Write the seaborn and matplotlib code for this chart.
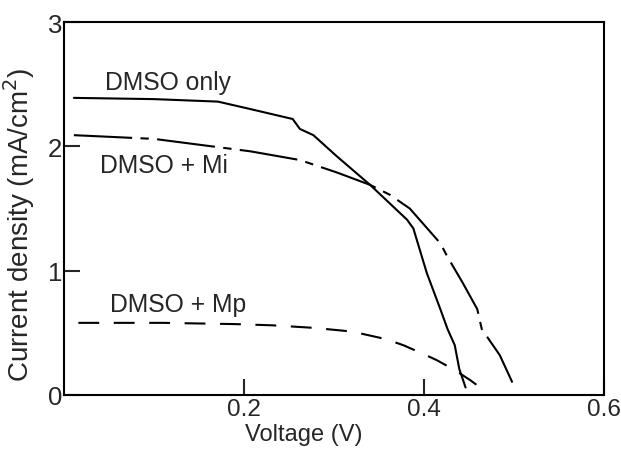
import matplotlib
matplotlib.use("Agg")
import matplotlib.pyplot as plt
import pandas as pd
import seaborn as sns

# J-V curves (voltage in V, current density in mA/cm2)
only_v = [0.011, 0.10, 0.171, 0.207, 0.254, 0.262, 0.277, 0.303, 0.34, 0.381,
          0.388, 0.403, 0.418, 0.426, 0.434, 0.439, 0.446]
only_j = [2.39, 2.38, 2.36, 2.30, 2.22, 2.14, 2.09, 1.92, 1.69, 1.41,
          1.34, 0.98, 0.69, 0.53, 0.40, 0.21, 0.06]

mi_v = [0.011, 0.10, 0.207, 0.262, 0.303, 0.34, 0.362, 0.384, 0.418, 0.426,
        0.443, 0.459, 0.464, 0.484, 0.498]
mi_j = [2.09, 2.06, 1.96, 1.89, 1.79, 1.69, 1.61, 1.50, 1.22, 1.11,
        0.90, 0.69, 0.53, 0.32, 0.10]

mp_v = [0.016, 0.11, 0.19, 0.232, 0.277, 0.32, 0.357, 0.377, 0.399, 0.414,
        0.434, 0.451, 0.466]
mp_j = [0.58, 0.58, 0.57, 0.56, 0.54, 0.51, 0.45, 0.40, 0.33, 0.28,
        0.20, 0.12, 0.04]

labels = ["DMSO only", "DMSO + Mi", "DMSO + Mp"]
x_ticks = [0.2, 0.4, 0.6]
y_ticks = [0, 1, 2, 3]

df = pd.concat([
    pd.DataFrame({"V": only_v, "J": only_j, "sample": labels[0]}),
    pd.DataFrame({"V": mi_v, "J": mi_j, "sample": labels[1]}),
    pd.DataFrame({"V": mp_v, "J": mp_j, "sample": labels[2]}),
], ignore_index=True)

sns.set_style("ticks")
plt.rcParams["font.family"] = ["Liberation Sans", "DejaVu Sans"]

fig = plt.figure(figsize=(6.21, 4.52), dpi=100)
ax = fig.add_axes([0.103, 0.124, 0.870, 0.825])

sns.lineplot(data=df, x="V", y="J", hue="sample", style="sample",
             palette=["black"] * 3,
             dashes={labels[0]: "", labels[1]: (28, 4, 4, 4), labels[2]: (10, 7)},
             sort=False, estimator=None, linewidth=1.5, legend=False, ax=ax)

ax.set_xlim(0, 0.6)
ax.set_ylim(0, 3)
ax.set_xticks(x_ticks)
ax.set_xticklabels(["0.2", "0.4", "0.6"])
ax.set_yticks(y_ticks)
ax.set_yticklabels(["0", "1", "2", "3"])
ax.tick_params(axis="x", direction="in", length=11.5, width=1.5, labelsize=17.5, pad=2.5)
ax.tick_params(axis="y", direction="in", length=11.5, width=1.5, labelsize=18.5, pad=1.5)
for s in ax.spines.values():
    s.set_linewidth(1.5)
    s.set_color("black")

ax.set_xlabel("Voltage (V)", fontsize=17)
ax.set_ylabel("Current density (mA/cm$^2$)", fontsize=20)
ax.xaxis.set_label_coords(0.443, -0.074)
ax.yaxis.set_label_coords(-0.05, 0.46)

# curve labels
ax.text(0.046, 2.52, labels[0], fontsize=17.8, va="center")
ax.text(0.040, 1.85, labels[1], fontsize=17.8, va="center")
ax.text(0.051, 0.73, labels[2], fontsize=17.8, va="center")

fig.savefig("out.png", dpi=100)
